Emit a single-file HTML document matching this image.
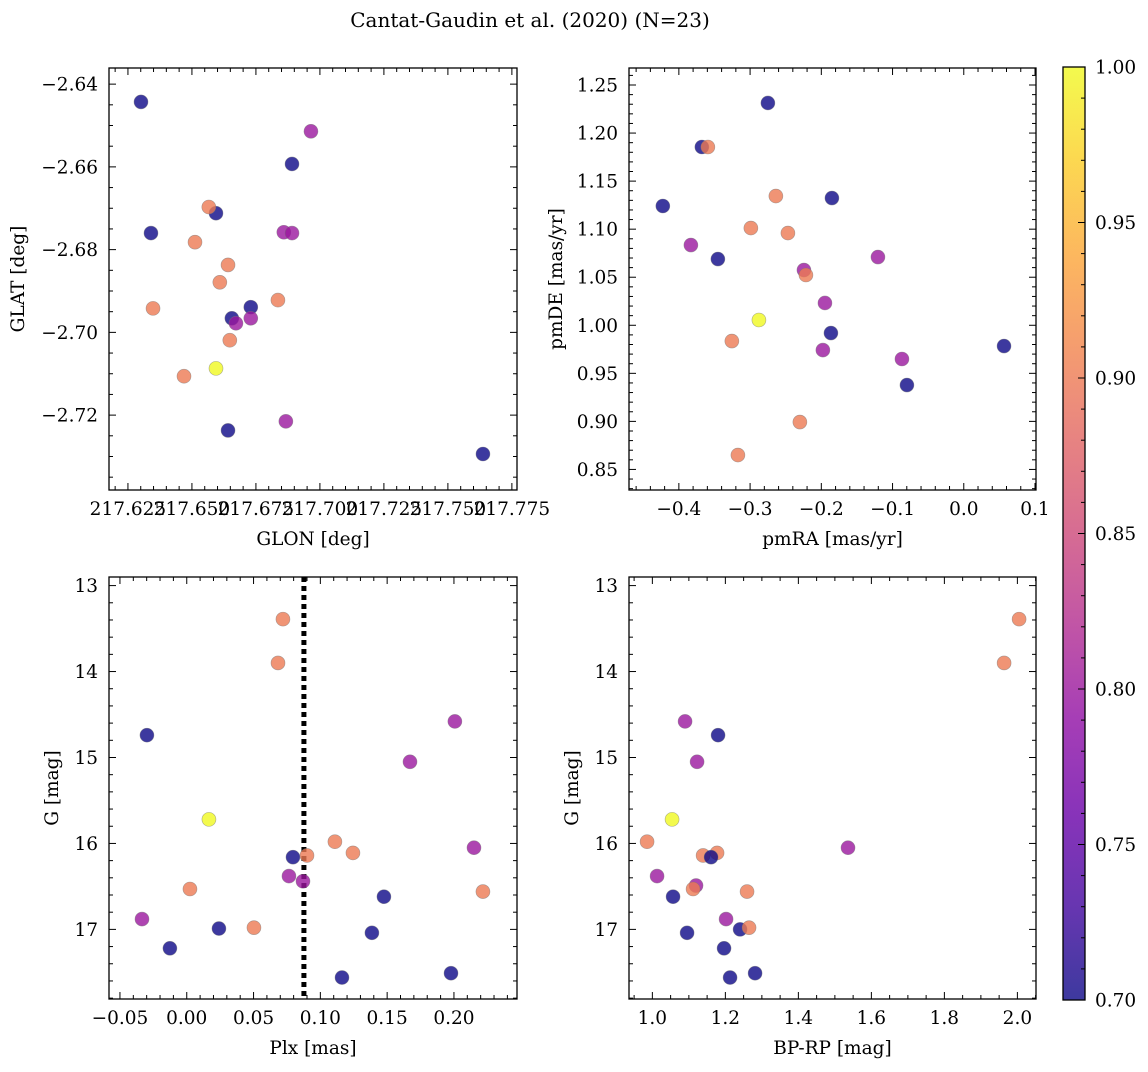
<!DOCTYPE html>
<html><head><meta charset="utf-8"><style>
html,body{margin:0;padding:0;background:#fff;}
svg text{font-family:"DejaVu Serif","Liberation Serif",serif;fill:#000;}
</style></head><body>
<svg id="fig" xmlns="http://www.w3.org/2000/svg" width="1148" height="1067" viewBox="0 0 1148 1067">
<text x="530" y="27" font-size="20" text-anchor="middle">Cantat-Gaudin et al. (2020) (N=23)</text>
</svg>
<script>
// Panel 1: sky position
const glon = [217.6301,217.6891,217.6965,217.6594,217.6566,217.6340,217.6512,217.6859,217.6891,217.6641,217.6609,217.6348,217.6730,217.6836,217.6656,217.6672,217.6730,217.6648,217.6594,217.6469,217.6641,217.6867,217.7637];
const glat = [-2.6443,-2.6593,-2.6514,-2.6712,-2.6697,-2.6760,-2.6782,-2.6758,-2.6760,-2.6837,-2.6879,-2.6942,-2.6939,-2.6922,-2.6966,-2.6978,-2.6966,-2.7019,-2.7087,-2.7106,-2.7237,-2.7215,-2.7294];
const probSky = [0.7,0.7,0.8,0.7,0.9,0.7,0.9,0.8,0.8,0.9,0.9,0.9,0.7,0.9,0.7,0.8,0.8,0.9,1.0,0.9,0.7,0.8,0.7];
// Panel 2: proper motions
const pmra = [-0.275,-0.3677,-0.3593,-0.4225,-0.2638,-0.1851,-0.2989,-0.2469,-0.3831,-0.3452,-0.1205,-0.2244,-0.2216,-0.1949,-0.2876,-0.1865,-0.3256,-0.1978,0.0565,-0.0868,-0.0798,-0.2301,-0.3171];
const pmde = [1.2313,1.1855,1.1855,1.1241,1.1345,1.1324,1.1012,1.0960,1.0835,1.0689,1.0710,1.0575,1.0523,1.0232,1.0055,0.9919,0.9836,0.9742,0.9784,0.9649,0.9378,0.8993,0.8650];
const probPm = [0.7,0.7,0.9,0.7,0.9,0.7,0.9,0.9,0.8,0.7,0.8,0.8,0.9,0.8,1.0,0.7,0.9,0.8,0.7,0.8,0.7,0.9,0.9];
// Panel 3: parallax vs G
const plx = [0.0720,0.0683,0.2007,-0.0298,0.1671,0.0166,0.1109,0.2150,0.1244,0.0900,0.0795,0.0765,0.0870,0.0024,0.2217,0.1476,-0.0335,0.0241,0.0503,0.1386,-0.0126,0.1162,0.1978];
const gPlx = [13.39,13.90,14.58,14.74,15.05,15.72,15.98,16.05,16.11,16.14,16.16,16.38,16.44,16.53,16.56,16.62,16.88,16.99,16.98,17.04,17.22,17.56,17.51];
const probPlx = [0.9,0.9,0.8,0.7,0.8,1.0,0.9,0.8,0.9,0.9,0.7,0.8,0.8,0.9,0.9,0.7,0.8,0.7,0.9,0.7,0.7,0.7,0.7];
const plxMean = [0.0877];
// Panel 4: CMD
const bprp = [2.0047,1.9636,1.0896,1.18,1.1225,1.054,0.9855,1.536,1.1773,1.139,1.1608,1.0129,1.1197,1.0567,1.1115,1.2594,1.2019,1.0951,1.1964,1.2403,1.2649,1.2129,1.2814];
const gCmd = [13.39,13.90,14.58,14.74,15.05,15.72,15.98,16.05,16.11,16.14,16.16,16.38,16.49,16.62,16.53,16.56,16.88,17.04,17.22,17.00,16.98,17.56,17.51];
const probCmd = [0.9,0.9,0.8,0.7,0.8,1.0,0.9,0.8,0.9,0.9,0.7,0.8,0.8,0.7,0.9,0.9,0.8,0.7,0.7,0.7,0.9,0.7,0.7];
// Tick labels
const ticksGlon = ["217.625","217.650","217.675","217.700","217.725","217.750","217.775"];
const ticksGlat = ["−2.64","−2.66","−2.68","−2.70","−2.72"];
const ticksPmra = ["−0.4","−0.3","−0.2","−0.1","0.0","0.1"];
const ticksPmde = ["1.25","1.20","1.15","1.10","1.05","1.00","0.95","0.90","0.85"];
const ticksPlx = ["−0.05","0.00","0.05","0.10","0.15","0.20"];
const ticksG = ["13","14","15","16","17"];
const ticksBprp = ["1.0","1.2","1.4","1.6","1.8","2.0"];
const ticksCbar = ["0.70","0.75","0.80","0.85","0.90","0.95","1.00"];

const NS="http://www.w3.org/2000/svg";
const svg=document.getElementById('fig');
const FS=18.5;
function mk(tag,attrs,parent){const e=document.createElementNS(NS,tag);for(const k in attrs)e.setAttribute(k,attrs[k]);(parent||svg).appendChild(e);return e;}
const stops=["#0d0887","#41049d","#6a00a8","#8f0da4","#b12a90","#cc4778","#e16462","#f2844b","#fca636","#fcce25","#f0f921"];
function hex(h){return [1,3,5].map(i=>parseInt(h.substr(i,2),16));}
function plasma(t){t=Math.max(0,Math.min(1,t));const p=t*10,i=Math.min(9,Math.floor(p)),f=p-i;const a=hex(stops[i]),b=hex(stops[i+1]);return `rgb(${a.map((v,k)=>Math.round(v+(b[k]-v)*f)).join(',')})`;}
const cmin=0.7,cmax=1.0;
function cmap(c){return plasma((c-cmin)/(cmax-cmin));}

function panel(o){
  const g=mk('g',{});
  
  
  const X=v=>o.x0+(v-o.xmin)/(o.xmax-o.xmin)*(o.x1-o.x0);
  const Y=o.yinv? v=>o.y0+(v-o.ymin)/(o.ymax-o.ymin)*(o.y1-o.y0) : v=>o.y1-(v-o.ymin)/(o.ymax-o.ymin)*(o.y1-o.y0);
  const tg=mk('g',{stroke:'#000','stroke-width':1},g);
  const eps=1e-9;
  for(let v=Math.ceil((o.xmin)/o.xminor-eps)*o.xminor; v<=o.xmax+eps; v+=o.xminor){
    const isMaj=Math.abs(Math.round((v-o.xmajStart)/o.xmaj)*o.xmaj-(v-o.xmajStart))<o.xminor/10;
    const L=isMaj?7:4, px=X(v);
    mk('line',{x1:px,x2:px,y1:o.y1,y2:o.y1-L},tg);
    mk('line',{x1:px,x2:px,y1:o.y0,y2:o.y0+L},tg);
  }
  for(let v=Math.ceil((o.ymin)/o.yminor-eps)*o.yminor; v<=o.ymax+eps; v+=o.yminor){
    const isMaj=Math.abs(Math.round((v-o.ymajStart)/o.ymaj)*o.ymaj-(v-o.ymajStart))<o.yminor/10;
    const L=isMaj?7:4, py=Y(v);
    mk('line',{x1:o.x0,x2:o.x0+L,y1:py,y2:py},tg);
    mk('line',{x1:o.x1,x2:o.x1-L,y1:py,y2:py},tg);
  }
  o.xlabels.forEach((s,i)=>{
    const t=mk('text',{x:X(o.xmajStart+i*o.xmaj),y:o.y1+25,'font-size':FS,'text-anchor':'middle'},g);
    
    
    t.textContent=s;
  });
  o.ylabels.forEach((s,i)=>{
    const t=mk('text',{x:o.x0-11,y:Y(o.ymajStart+i*o.ymaj)+6.5,'font-size':FS,'text-anchor':'end'},g);
    
    
    t.textContent=s;
  });
  const xt=mk('text',{x:(o.x0+o.x1)/2,y:o.y1+55,'font-size':FS,'text-anchor':'middle'},g);
  
  
  xt.textContent=o.xtitle;
  const yc=(o.y0+o.y1)/2;
  const yt=mk('text',{x:o.ytx,y:yc,'font-size':FS,'text-anchor':'middle',transform:`rotate(-90 ${o.ytx} ${yc})`},g);
  
  
  yt.textContent=o.ytitle;
  if(o.vline!==undefined){
    const l=mk('line',{x1:X(o.vline),x2:X(o.vline),y1:o.y0,y2:o.y1,stroke:'#000','stroke-width':5,'stroke-dasharray':'5 4'},g);
    
    
  }
  const pg=mk('g',{},g);
  o.xs.forEach((xv,i)=>{
    const c=mk('circle',{cx:X(xv),cy:Y(o.ys[i]),r:7,fill:cmap(o.cs[i]),'fill-opacity':0.8,stroke:'#777','stroke-opacity':0.6,'stroke-width':0.6},pg);
    
    
  });
  const fr=mk('rect',{x:o.x0,y:o.y0,width:o.x1-o.x0,height:o.y1-o.y0,fill:'none',stroke:'#000','stroke-width':1.3},g);
  
  
}

panel({name:'sky-position-panel',x0:109,x1:517,y0:68,y1:490,xmin:217.6176,xmax:217.7770,ymin:-2.7381,ymax:-2.6361,
  xmajStart:217.625,xmaj:0.025,xminor:0.005,ymajStart:-2.64,ymaj:-0.02,yminor:0.005,
  xlabels:ticksGlon,ylabels:ticksGlat,xtitle:'GLON [deg]',ytitle:'GLAT [deg]',ytx:24,xs:glon,ys:glat,cs:probSky});
panel({name:'proper-motion-panel',x0:629,x1:1036,y0:68,y1:490,xmin:-0.470,xmax:0.1014,ymin:0.8286,ymax:1.2677,
  xmajStart:-0.4,xmaj:0.1,xminor:0.02,ymajStart:1.25,ymaj:-0.05,yminor:0.01,
  xlabels:ticksPmra,ylabels:ticksPmde,xtitle:'pmRA [mas/yr]',ytitle:'pmDE [mas/yr]',ytx:562,xs:pmra,ys:pmde,cs:probPm});
panel({name:'parallax-panel',x0:109,x1:517,y0:577,y1:999,xmin:-0.0582,xmax:0.2472,ymin:12.90,ymax:17.81,yinv:true,
  xmajStart:-0.05,xmaj:0.05,xminor:0.01,ymajStart:13,ymaj:1,yminor:0.2,
  xlabels:ticksPlx,ylabels:ticksG,xtitle:'Plx [mas]',ytitle:'G [mag]',ytx:58,xs:plx,ys:gPlx,cs:probPlx,vline:plxMean[0]});
panel({name:'cmd-panel',x0:629,x1:1036,y0:577,y1:999,xmin:0.936,xmax:2.051,ymin:12.90,ymax:17.81,yinv:true,
  xmajStart:1.0,xmaj:0.2,xminor:0.05,ymajStart:13,ymaj:1,yminor:0.2,
  xlabels:ticksBprp,ylabels:ticksG,xtitle:'BP-RP [mag]',ytitle:'G [mag]',ytx:578,xs:bprp,ys:gCmd,cs:probCmd});

(function(){
  const x0=1063,x1=1085,y0=67,y1=1000;
  const g=mk('g',{});
  
  
  const defs=mk('defs',{},g);
  const lg=mk('linearGradient',{id:'cbg',x1:0,y1:1,x2:0,y2:0},defs);
  for(let i=0;i<=20;i++){mk('stop',{offset:i/20,'stop-color':plasma(i/20),'stop-opacity':0.8},lg);}
  mk('rect',{x:x0,y:y0,width:x1-x0,height:y1-y0,fill:'url(#cbg)'},g);
  const Y=v=>y1-(v-cmin)/(cmax-cmin)*(y1-y0);
  for(let k=0;k<=30;k++){const v=cmin+k*0.01,py=Y(v),maj=k%5===0;
    mk('line',{x1:x1,x2:x1-(maj?7:4),y1:py,y2:py,stroke:'#000','stroke-width':1},g);}
  ticksCbar.forEach((s,i)=>{
    const t=mk('text',{x:x1+10,y:Y(cmin+i*0.05)+6.5,'font-size':FS},g);
    
    
    t.textContent=s;
  });
  mk('rect',{x:x0,y:y0,width:x1-x0,height:y1-y0,fill:'none',stroke:'#000','stroke-width':1.3},g);
})();
</script>
</body></html>
